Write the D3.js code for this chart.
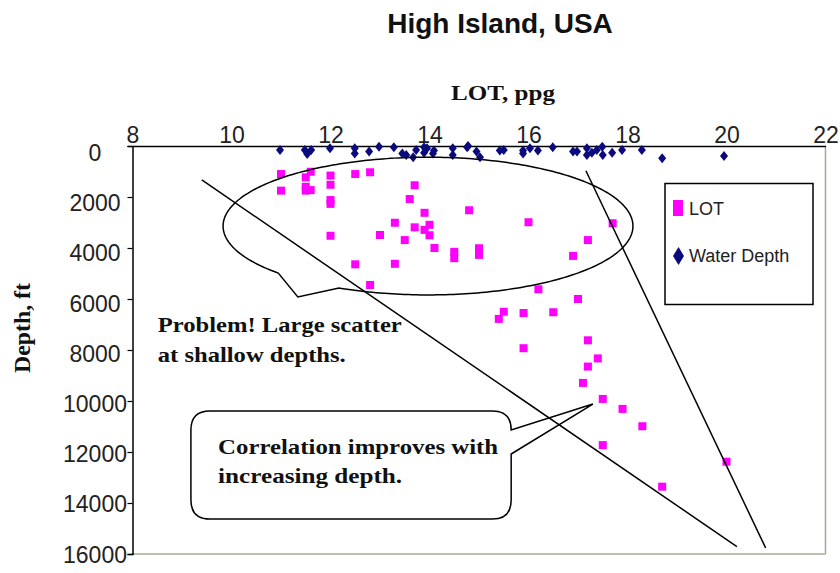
<!DOCTYPE html>
<html>
<head>
<meta charset="utf-8">
<script src="https://cdn.jsdelivr.net/npm/d3@7"></script>
<style>
  html, body { margin: 0; padding: 0; background: #fff; }
  svg { display: block; }
</style>
</head>
<body>
<svg id="chart" width="840" height="573"></svg>
<script>
// ---------- DATA ----------
const title = "High Island, USA";
const xTitle = "LOT, ppg";
const yTitle = "Depth, ft";
const xTicks = [8, 10, 12, 14, 16, 18, 20, 22];
const yTicks = [0, 2000, 4000, 6000, 8000, 10000, 12000, 14000, 16000];

// LOT series (ppg, depth ft)
const lotPpg = [11.0, 11.0, 11.6, 11.5, 11.5, 11.6, 11.5, 12.0, 12.0, 12.0, 12.0, 12.0, 12.5, 12.8,
  13.7, 13.6, 13.9, 14.8, 13.3, 13.7, 13.9, 14.0, 14.0, 13.0, 13.5, 14.1, 14.5, 14.5, 15.0, 15.0,
  12.5, 13.3, 12.8, 16.0, 17.7, 17.2, 16.9, 16.2, 17.0, 15.5, 15.4, 15.9, 16.5, 15.9, 17.2, 17.4,
  17.2, 17.1, 17.5, 17.9, 18.3, 17.5, 20.0, 18.7];
const lotDepth = [1100, 1750, 1010, 1230, 1600, 1730, 1750, 1160, 1520, 2120, 2270, 3520, 1100, 1030,
  1540, 2080, 2620, 2520, 3010, 3190, 3290, 3090, 3500, 3490, 3690, 4000, 4150, 4400, 4010, 4270,
  4640, 4620, 5450, 2990, 3030, 3690, 4310, 5620, 6000, 6500, 6780, 6550, 6520, 7930, 7620, 8330,
  8650, 9290, 9920, 10310, 10990, 11730, 12380, 13360];

// Water Depth series (ppg, depth ft)
const wdPpg = [10.98, 11.48, 11.61, 11.53, 11.99, 12.49, 12.49, 12.78, 12.98, 13.28, 13.45, 13.53, 13.67,
  13.73, 13.89, 13.89, 13.95, 14.07, 14.09, 14.47, 14.47, 14.76, 14.78, 14.95, 15.02, 15.42, 15.5,
  15.89, 15.89, 16.03, 16.19, 16.49, 16.90, 16.98, 17.18, 17.18, 17.28, 17.38, 17.49, 17.50, 17.69,
  17.89, 18.29, 18.70, 19.95];
const wdDepth = [160, 160, 160, 310, 90, 90, 290, 220, 30, 50, 290, 350, 440,
  160, 50, 260, 90, 290, 180, 90, 350, 50, 0, 220, 440, 180, 160,
  180, 290, 90, 180, 50, 220, 220, 90, 350, 260, 160, 30, 350, 260,
  160, 160, 480, 390];

// Annotations (in data units)
const trendLine1 = [[9.40, 1330], [20.21, 15710]];
const trendLine2 = [[17.16, 970], [20.79, 15760]];
const ellipseCallout = { cx: 13.97, cy: 3140, rx: 4.14, ry: 2700, tip: [11.34, 5920] };
const boxCallout = { x0: 9.18, x1: 15.65, y0: 10390, y1: 14630, tip: [17.30, 10120], baseLow: 12080 };
const note1 = ["Problem! Large scatter", "at shallow depths."];
const note1Pos = [8.51, 7310, 8460];
const note2 = ["Correlation improves with", "increasing depth."];
const note2Pos = [9.73, 12090, 13230];
const legendLabels = ["LOT", "Water Depth"];

// ---------- CHART ----------
const svg = d3.select("#chart");
const pLeft = 132.5, pRight = 825.5, pTop = 146, pBottom = 554;
const x = d3.scaleLinear().domain([8, 22]).range([pLeft, pRight]);
const y = d3.scaleLinear().domain([0, 16000]).range([pTop, pBottom]);

const sans = "'Liberation Sans', Arial, sans-serif";
const serif = "'Liberation Serif', 'Times New Roman', serif";

// stretch helper: keep text at a given rendered width
function stretch(sel, w) {
  sel.attr("textLength", w).attr("lengthAdjust", "spacingAndGlyphs");
  return sel;
}

// title
svg.append("text").attr("x", 500).attr("y", 33).attr("text-anchor", "middle")
  .attr("font-family", sans).attr("font-weight", "bold").attr("font-size", 28)
  .attr("fill", "#111").text(title);

// x title
stretch(svg.append("text").attr("x", 503).attr("y", 100).attr("text-anchor", "middle")
  .attr("font-family", serif).attr("font-weight", "bold").attr("font-size", 22)
  .attr("fill", "#111").text(xTitle), 104);

// y title
stretch(svg.append("text").attr("transform", "translate(30,328) rotate(-90)").attr("text-anchor", "middle")
  .attr("font-family", serif).attr("font-weight", "bold").attr("font-size", 23)
  .attr("fill", "#111").text(yTitle), 90);

// plot border (right & bottom grey)
svg.append("line").attr("x1", pRight).attr("x2", pRight).attr("y1", pTop).attr("y2", pBottom)
  .attr("stroke", "#a8a890").attr("stroke-width", 1.5);
svg.append("line").attr("x1", pLeft).attr("x2", pRight).attr("y1", pBottom).attr("y2", pBottom)
  .attr("stroke", "#a8a890").attr("stroke-width", 1.5);

// top axis
const xAxis = d3.axisTop(x).tickValues(xTicks).tickSize(0).tickPadding(3).tickFormat(d3.format("d"));
const gx = svg.append("g").attr("transform", `translate(0,${pTop})`).call(xAxis);
gx.select(".domain").attr("stroke", "#000").attr("stroke-width", 1.5);
gx.selectAll("text").attr("font-family", sans).attr("font-size", 23).attr("fill", "#222");

// left axis
const yAxis = d3.axisLeft(y).tickValues(yTicks).tickSize(5).tickFormat(d3.format("d"));
const gy = svg.append("g").attr("transform", `translate(${pLeft},0)`).call(yAxis);
gy.select(".domain").attr("stroke", "#000").attr("stroke-width", 1.5);
gy.selectAll(".tick line").attr("stroke", "#000").attr("stroke-width", 1.2);
gy.selectAll("text").attr("font-family", sans).attr("font-size", 23).attr("fill", "#222")
  .attr("text-anchor", "middle").attr("x", 95 - pLeft).attr("dy", null)
  .attr("y", d => 14.5 - 6.5 * d / 16000);

// water depth diamonds
const wd = d3.range(wdPpg.length).map(i => [wdPpg[i], wdDepth[i]]);
svg.append("g").selectAll("path").data(wd).join("path")
  .attr("d", d => {
    const cx = x(d[0]), cy = y(d[1]);
    return `M${cx},${cy - 5}L${cx + 4},${cy}L${cx},${cy + 5}L${cx - 4},${cy}Z`;
  })
  .attr("fill", "#0a0a7e");

// LOT squares
const lot = d3.range(lotPpg.length).map(i => [lotPpg[i], lotDepth[i]]);
svg.append("g").selectAll("rect").data(lot).join("rect")
  .attr("x", d => x(d[0]) - 4).attr("y", d => y(d[1]) - 4)
  .attr("width", 8).attr("height", 8).attr("fill", "#ff00ff");

// trend lines
const lineGen = d3.line().x(d => x(d[0])).y(d => y(d[1]));
[trendLine1, trendLine2].forEach(l => {
  svg.append("path").attr("d", lineGen(l)).attr("fill", "none")
    .attr("stroke", "#000").attr("stroke-width", 1.5);
});

// ellipse callout
(function () {
  const cx = x(ellipseCallout.cx), cy = y(ellipseCallout.cy);
  const rx = x(8 + ellipseCallout.rx) - x(8), ry = y(ellipseCallout.ry) - y(0);
  const t0 = 2.39, t1 = 2 * Math.PI + 2.02;
  const pts = d3.range(t0, t1, 0.02).map(t => [cx + rx * Math.cos(t), cy + ry * Math.sin(t)]);
  pts.push([cx + rx * Math.cos(t1), cy + ry * Math.sin(t1)]);
  pts.push([x(ellipseCallout.tip[0]), y(ellipseCallout.tip[1])]);
  svg.append("path").attr("d", "M" + pts.map(p => p.join(",")).join("L") + "Z")
    .attr("fill", "none").attr("stroke", "#000").attr("stroke-width", 1.5);
})();

// box callout
(function () {
  const L = x(boxCallout.x0), R = x(boxCallout.x1), T = y(boxCallout.y0), B = y(boxCallout.y1);
  const r = 19;
  const tx = x(boxCallout.tip[0]), ty = y(boxCallout.tip[1]), bl = y(boxCallout.baseLow);
  const d = `M${L + r},${T}H${R - r}Q${R},${T} ${R},${T + r}L${tx},${ty}L${R},${bl}V${B - r}` +
    `Q${R},${B} ${R - r},${B}H${L + r}Q${L},${B} ${L},${B - r}V${T + r}Q${L},${T} ${L + r},${T}Z`;
  svg.append("path").attr("d", d).attr("fill", "none").attr("stroke", "#000").attr("stroke-width", 1.5);
})();

// notes
function note(lines, pos, widths) {
  lines.forEach((s, i) => {
    stretch(svg.append("text").attr("x", x(pos[0])).attr("y", y(pos[1 + i]))
      .attr("font-family", serif).attr("font-weight", "bold").attr("font-size", 22)
      .attr("fill", "#111").text(s), widths[i]);
  });
}
note(note1, note1Pos, [244, 188]);
note(note2, note2Pos, [280, 184]);

// legend
const lg = svg.append("g");
lg.append("rect").attr("x", 665).attr("y", 183.5).attr("width", 148).attr("height", 121)
  .attr("fill", "#fff").attr("stroke", "#000").attr("stroke-width", 1.5);
lg.append("rect").attr("x", 673).attr("y", 200).attr("width", 10).attr("height", 16).attr("fill", "#ff00ff");
lg.append("path").attr("d", "M678.5,247L684,256L678.5,265L673,256Z").attr("fill", "#0a0a7e");
lg.append("text").attr("x", 689).attr("y", 215).attr("font-family", sans).attr("font-size", 18)
  .attr("fill", "#222").text(legendLabels[0]);
lg.append("text").attr("x", 689).attr("y", 262).attr("font-family", sans).attr("font-size", 18)
  .attr("fill", "#222").text(legendLabels[1]);
</script>
</body>
</html>
